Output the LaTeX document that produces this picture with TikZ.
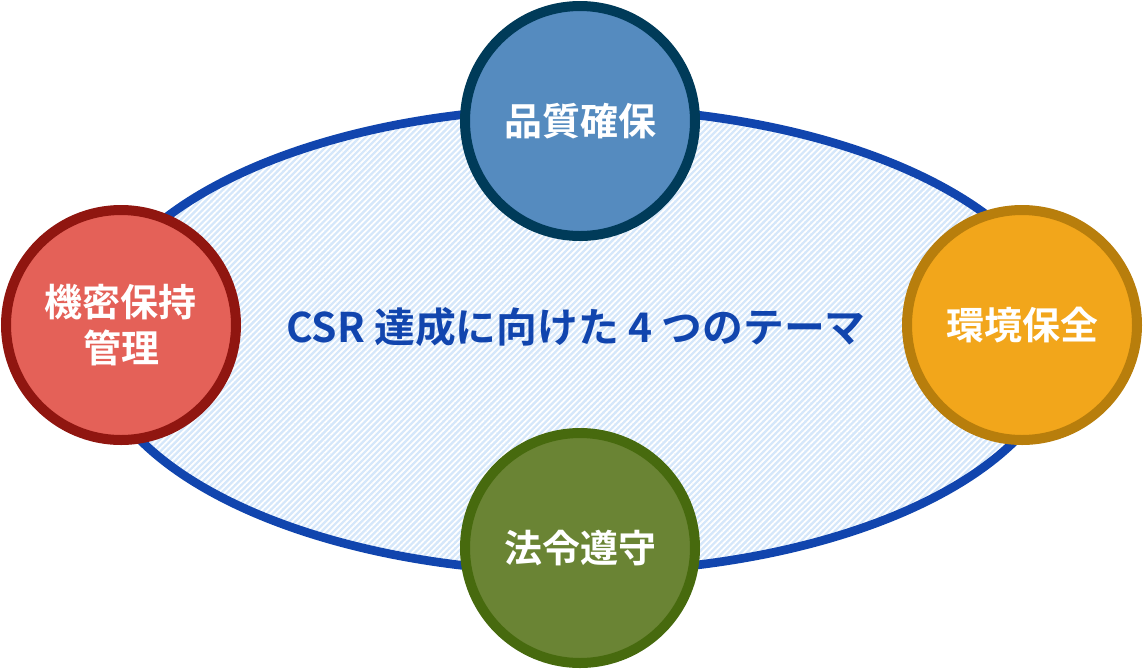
\documentclass[tikz,border=0pt]{standalone}
\usepackage{fontspec}
\newfontfamily\jpfont{Noto Sans CJK JP Bold}
\usetikzlibrary{patterns.meta}
\definecolor{ringblue}{HTML}{1145AE}
\definecolor{paleblue}{HTML}{D5E7FA}
\definecolor{qfill}{HTML}{558BBF}\definecolor{qline}{HTML}{003B59}
\definecolor{rfill}{HTML}{E46158}\definecolor{rline}{HTML}{901610}
\definecolor{ofill}{HTML}{F2A61B}\definecolor{oline}{HTML}{B87E0C}
\definecolor{gfill}{HTML}{6A8434}\definecolor{gline}{HTML}{476A0E}
\begin{document}
\begin{tikzpicture}[x=0.75pt,y=-0.75pt,
  theme/.style={circle,draw=#1line,fill=#1fill,line width=7.5pt,minimum size=172.5pt,inner sep=0pt,
    text=white,align=center,font=\jpfont\fontsize{28.5}{35}\selectfont}]
\useasboundingbox (0,0) rectangle (1143,669);
\fill[paleblue] (578,340) ellipse [x radius=485, y radius=232];
\fill[pattern={Lines[angle=45,distance=3.2pt,line width=1.3pt]},pattern color=white] (578,340) ellipse [x radius=485, y radius=232];
\draw[ringblue,line width=6.5pt] (578,340) ellipse [x radius=485, y radius=232];
\node (title) at (576,327) {\textcolor{ringblue}{\jpfont\fontsize{30.6}{36}\selectfont CSR 達成に向けた 4 つのテーマ}};
\node[theme=q] (q) at (580,121) {品質確保};
\node[theme=r] (r) at (121,325) {機密保持\\管理};
\node[theme=o] (o) at (1022,325) {環境保全};
\node[theme=g] (g) at (580,548) {法令遵守};
\end{tikzpicture}
\end{document}
